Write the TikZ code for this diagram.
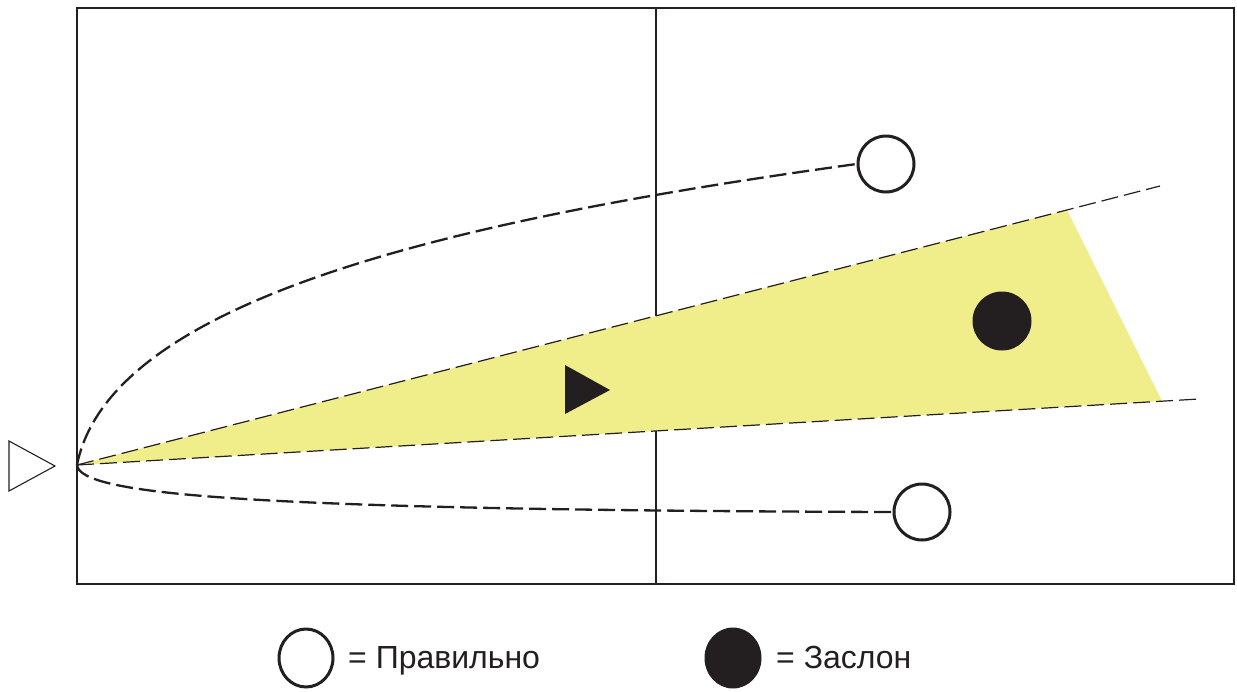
\documentclass[tikz,border=0pt]{standalone}
\usepackage{fontspec}
\setmainfont{Liberation Sans}
\usetikzlibrary{shapes.geometric}
\definecolor{zone}{RGB}{240,238,138}
\definecolor{ink}{RGB}{35,31,32}
\tikzset{
  frameline/.style={draw=ink, line width=1.5pt},
  dashline/.style={draw=ink, line width=2.3pt, dash pattern=on 17pt off 6pt},
  edgeline/.style={draw=ink, line width=1.2pt, dash pattern=on 17pt off 6pt},
  opencirc/.style={circle, draw=ink, line width=3pt, fill=white, minimum size=56pt, inner sep=0pt},
  fillcirc/.style={circle, fill=ink, minimum size=59pt, inner sep=0pt},
  legopen/.style={ellipse, draw=ink, line width=3pt, minimum width=54pt, minimum height=58pt, inner sep=0pt},
  legfill/.style={ellipse, fill=ink, minimum width=57pt, minimum height=61pt, inner sep=0pt},
  legtext/.style={anchor=base west, inner sep=0pt, font=\fontsize{32}{36}\selectfont, text=ink}
}
\begin{document}
\begin{tikzpicture}[x=1pt, y=-1pt]
\useasboundingbox (0,0) rectangle (1237,691);
% frame
\draw[frameline] (77,8) rectangle (1234,584);
\draw[frameline] (656,8) -- (656,584);
% zone
\coordinate (apex) at (77,465);
\coordinate (topend) at (1160,186);
\coordinate (botend) at (1199,399);
\fill[zone] (apex) -- (1067,210) -- (1162,401) -- cycle;
\draw[edgeline] (apex) -- (topend);
\draw[edgeline] (apex) -- (botend);
% player marks
\node[opencirc] (ctop) at (886,164) {};
\node[opencirc] (cbot) at (922,512) {};
\node[fillcirc] (cblk) at (1002,321) {};
\draw[fill=ink, draw=none] (565,365) -- (565,414) -- (610,390) -- cycle;
% curves
\draw[dashline] (apex) .. controls (110,300) and (450,220) .. (ctop.west);
\draw[dashline] (apex) .. controls (80,495) and (250,510) .. (cbot.west);
% left triangle
\draw[ink, line width=1.1pt] (9,441) -- (9,491) -- (55,466) -- cycle;
% legend
\node[legopen] (lopen) at (306,658) {};
\node[legtext] (lt1) at (348,668) {= Правильно};
\node[legfill] (lfill) at (733,658) {};
\node[legtext] (lt2) at (776,668) {= Заслон};
\end{tikzpicture}
\end{document}
